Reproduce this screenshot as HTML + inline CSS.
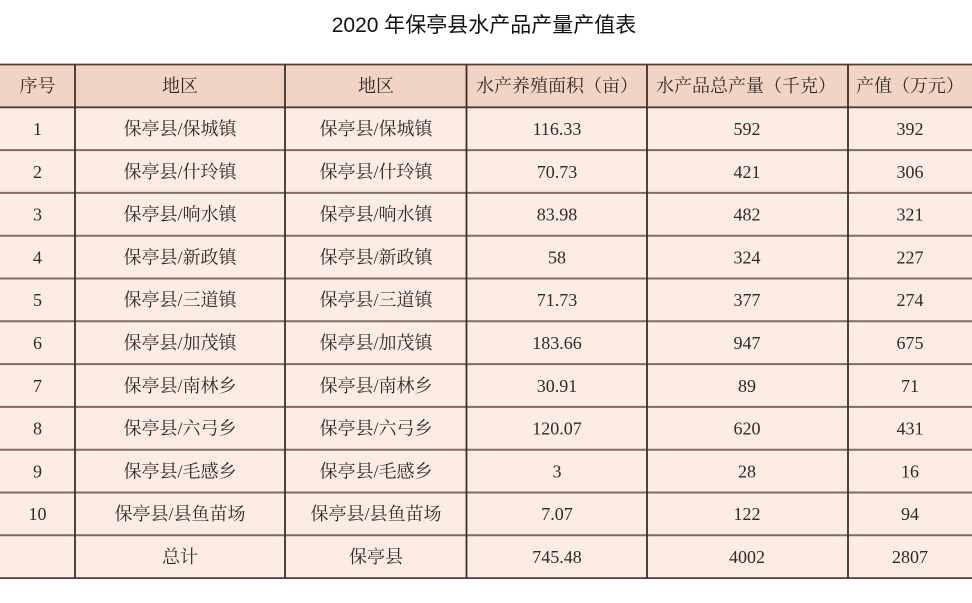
<!DOCTYPE html>
<html>
<head>
<meta charset="utf-8">
<style>
html,body{margin:0;padding:0;background:#fff;}
svg{display:block;}
.t{font-family:"Liberation Serif","Noto Serif CJK SC",serif;font-size:18px;fill:#2e2a28;}
.title{font-family:"Liberation Sans","Noto Sans CJK SC",sans-serif;font-size:21px;fill:#111;}
</style>
</head>
<body>
<svg width="972" height="603" viewBox="0 0 972 603" xmlns="http://www.w3.org/2000/svg">
<rect x="0" y="0" width="972" height="603" fill="#fff"/>
<text class="title" x="484" y="31.8" text-anchor="middle">2020 年保亭县水产品产量产值表</text>
<!-- backgrounds -->
<rect x="0" y="64.5" width="972" height="42.8" fill="#f2d4c5"/>
<rect x="0" y="107.3" width="972" height="470.8" fill="#fdece4"/>
<!-- horizontal lines -->
<g stroke="#7a6d63" stroke-width="2">
<line x1="0" x2="972" y1="150.1" y2="150.1"/>
<line x1="0" x2="972" y1="192.9" y2="192.9"/>
<line x1="0" x2="972" y1="235.7" y2="235.7"/>
<line x1="0" x2="972" y1="278.5" y2="278.5"/>
<line x1="0" x2="972" y1="321.3" y2="321.3"/>
<line x1="0" x2="972" y1="364.1" y2="364.1"/>
<line x1="0" x2="972" y1="406.9" y2="406.9"/>
<line x1="0" x2="972" y1="449.7" y2="449.7"/>
<line x1="0" x2="972" y1="492.5" y2="492.5"/>
<line x1="0" x2="972" y1="535.3" y2="535.3"/>
</g>
<g stroke="#4a3f3a" stroke-width="1.8">
<line x1="0" x2="972" y1="64.5" y2="64.5"/>
<line x1="0" x2="972" y1="107.3" y2="107.3"/>
<line x1="0" x2="972" y1="578.1" y2="578.1"/>
</g>
<g stroke="#3a302c" stroke-width="1.8">
<line x1="75" x2="75" y1="64.5" y2="578.1"/>
<line x1="285" x2="285" y1="64.5" y2="578.1"/>
<line x1="466.5" x2="466.5" y1="64.5" y2="578.1"/>
<line x1="647" x2="647" y1="64.5" y2="578.1"/>
<line x1="848" x2="848" y1="64.5" y2="578.1"/>
</g>
<!-- header -->
<g class="t" text-anchor="middle">
<text class="t" x="37.5" y="92">序号</text>
<text class="t" x="180" y="92">地区</text>
<text class="t" x="376" y="92">地区</text>
<text class="t" x="557" y="92">水产养殖面积（亩）</text>
<text class="t" x="746" y="92">水产品总产量（千克）</text>
<text class="t" x="910" y="92">产值（万元）</text>
</g>
<g text-anchor="middle">
<text class="t" x="37.5" y="135">1</text><text class="t" x="180" y="135">保亭县/保城镇</text><text class="t" x="376" y="135">保亭县/保城镇</text><text class="t" x="557" y="135">116.33</text><text class="t" x="747" y="135">592</text><text class="t" x="910" y="135">392</text>
<text class="t" x="37.5" y="177.8">2</text><text class="t" x="180" y="177.8">保亭县/什玲镇</text><text class="t" x="376" y="177.8">保亭县/什玲镇</text><text class="t" x="557" y="177.8">70.73</text><text class="t" x="747" y="177.8">421</text><text class="t" x="910" y="177.8">306</text>
<text class="t" x="37.5" y="220.6">3</text><text class="t" x="180" y="220.6">保亭县/响水镇</text><text class="t" x="376" y="220.6">保亭县/响水镇</text><text class="t" x="557" y="220.6">83.98</text><text class="t" x="747" y="220.6">482</text><text class="t" x="910" y="220.6">321</text>
<text class="t" x="37.5" y="263.4">4</text><text class="t" x="180" y="263.4">保亭县/新政镇</text><text class="t" x="376" y="263.4">保亭县/新政镇</text><text class="t" x="557" y="263.4">58</text><text class="t" x="747" y="263.4">324</text><text class="t" x="910" y="263.4">227</text>
<text class="t" x="37.5" y="306.2">5</text><text class="t" x="180" y="306.2">保亭县/三道镇</text><text class="t" x="376" y="306.2">保亭县/三道镇</text><text class="t" x="557" y="306.2">71.73</text><text class="t" x="747" y="306.2">377</text><text class="t" x="910" y="306.2">274</text>
<text class="t" x="37.5" y="349">6</text><text class="t" x="180" y="349">保亭县/加茂镇</text><text class="t" x="376" y="349">保亭县/加茂镇</text><text class="t" x="557" y="349">183.66</text><text class="t" x="747" y="349">947</text><text class="t" x="910" y="349">675</text>
<text class="t" x="37.5" y="391.8">7</text><text class="t" x="180" y="391.8">保亭县/南林乡</text><text class="t" x="376" y="391.8">保亭县/南林乡</text><text class="t" x="557" y="391.8">30.91</text><text class="t" x="747" y="391.8">89</text><text class="t" x="910" y="391.8">71</text>
<text class="t" x="37.5" y="434.6">8</text><text class="t" x="180" y="434.6">保亭县/六弓乡</text><text class="t" x="376" y="434.6">保亭县/六弓乡</text><text class="t" x="557" y="434.6">120.07</text><text class="t" x="747" y="434.6">620</text><text class="t" x="910" y="434.6">431</text>
<text class="t" x="37.5" y="477.4">9</text><text class="t" x="180" y="477.4">保亭县/毛感乡</text><text class="t" x="376" y="477.4">保亭县/毛感乡</text><text class="t" x="557" y="477.4">3</text><text class="t" x="747" y="477.4">28</text><text class="t" x="910" y="477.4">16</text>
<text class="t" x="37.5" y="520.2">10</text><text class="t" x="180" y="520.2">保亭县/县鱼苗场</text><text class="t" x="376" y="520.2">保亭县/县鱼苗场</text><text class="t" x="557" y="520.2">7.07</text><text class="t" x="747" y="520.2">122</text><text class="t" x="910" y="520.2">94</text>
<text class="t" x="180" y="563">总计</text><text class="t" x="376" y="563">保亭县</text><text class="t" x="557" y="563">745.48</text><text class="t" x="747" y="563">4002</text><text class="t" x="910" y="563">2807</text>
</g>
</svg>
</body>
</html>
